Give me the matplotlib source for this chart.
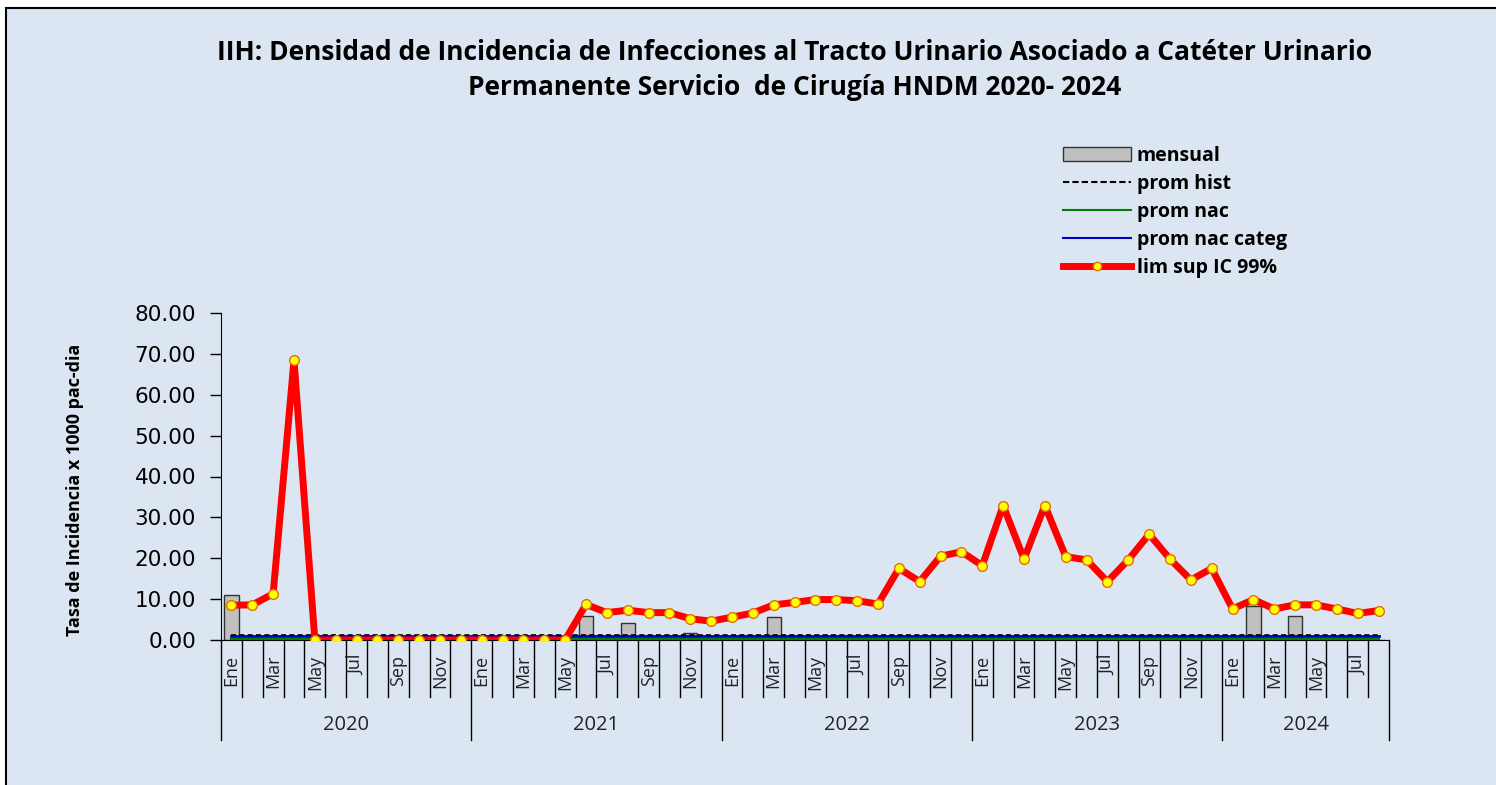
import matplotlib
matplotlib.use('Agg')
import matplotlib.pyplot as plt
from matplotlib.patches import Rectangle
from matplotlib.ticker import FormatStrFormatter

plt.rcParams['font.family'] = ['Open Sans', 'DejaVu Sans']

# data (Ene 2020 - Ago 2024)
years = ['2020', '2021', '2022', '2023', '2024']
months_per_year = [12, 12, 12, 12, 8]
month_names = ['Ene', 'Feb', 'Mar', 'Abr', 'May', 'Jun', 'Jul', 'Ago', 'Sep', 'Oct', 'Nov', 'Dic']

mensual = [11.0, 0, 0, 0, 0, 0, 0, 0, 0, 0, 0, 0,
           0, 0, 0, 0, 0, 5.9, 0, 4.1, 0, 0, 1.8, 0,
           0, 0, 5.7, 0, 0, 0, 0, 0, 0, 0, 0, 0,
           0, 0, 0, 0, 0, 0, 0, 0, 0, 0, 0, 0,
           0, 8.2, 0, 5.9, 0, 0, 0, 0]
lim_sup = [8.5, 8.6, 11.3, 68.5, 0, 0, 0, 0, 0, 0, 0, 0,
           0, 0, 0, 0, 0, 8.7, 6.7, 7.3, 6.7, 6.7, 5.2, 4.6,
           5.6, 6.6, 8.6, 9.2, 9.9, 9.9, 9.6, 8.8, 17.5, 14.3, 20.5, 21.6,
           18.2, 32.9, 19.8, 32.9, 20.4, 19.6, 14.3, 19.6, 25.9, 19.8, 14.7, 17.5,
           7.6, 9.9, 7.6, 8.6, 8.6, 7.6, 6.5, 7.2]
prom_hist = 1.2
prom_nac = 0.3
prom_nac_categ = 1.0

n = len(lim_sup)
x = list(range(n))

W, H = 1496, 785
fig = plt.figure(figsize=(W / 100, H / 100), dpi=100, facecolor='white')
# chart area background with black frame (cropped screenshot look)
fig.patches.append(Rectangle((6 / W, -0.02), 1.05, 1 - 8 / H + 0.02, transform=fig.transFigure,
                             facecolor='#DCE6F2', edgecolor='black', lw=1.5, zorder=-10))

ax = fig.add_axes([221 / W, 1 - 640 / H, (1389 - 221) / W, (640 - 313) / H])
ax.set_facecolor('none')

ax.bar(x, mensual, width=0.68, color='#C0C0C0', edgecolor='#333333', lw=1, zorder=2)
ax.plot([0, n - 1], [prom_nac, prom_nac], color='#008000', lw=1.5, zorder=3)
ax.plot([0, n - 1], [prom_nac_categ, prom_nac_categ], color='#0000C0', lw=2, zorder=3)
ax.plot([0, n - 1], [prom_hist, prom_hist], color='black', lw=1.2, ls=(0, (3, 2)), zorder=3)
ax.plot(x, lim_sup, color='#FF0000', lw=5, marker='o', ms=7, mfc='#FFFF00', mec='#E46C0A',
        mew=1, zorder=4)

ax.set_xlim(-0.5, n - 0.5)
ax.set_ylim(0, 80)
ax.set_yticks(range(0, 81, 10))
ax.yaxis.set_major_formatter(FormatStrFormatter('%.2f'))
ax.tick_params(axis='y', direction='out', length=8, width=1, pad=10)
for lab in ax.get_yticklabels():
    lab.set_fontfamily('DejaVu Sans')
    lab.set_fontsize(15.5)
ax.set_xticks([])
for s in ['top', 'right']:
    ax.spines[s].set_visible(False)

# multi level category axis drawn by hand
trans = ax.get_xaxis_transform()
month_bottom = (640 - 697) / (640 - 313)
year_bottom = (640 - 740) / (640 - 313)
year_starts = [sum(months_per_year[:k]) for k in range(len(years) + 1)]
for i in range(n + 1):
    low = year_bottom if i in year_starts else month_bottom
    ax.plot([i - 0.5, i - 0.5], [0, low], color='black', lw=1, transform=trans, clip_on=False)
for i in range(n):
    if i % 2 == 0:
        ax.text(i, -0.045, month_names[i % 12], rotation=90, ha='center', va='top',
                fontsize=13, color='#222222', transform=trans)
for k in range(len(years)):
    mid = (year_starts[k] + year_starts[k + 1]) / 2 - 0.5
    ax.text(mid, (640 - 725) / (640 - 313), years[k], ha='center', va='center', fontsize=14.5,
            color='#222222', transform=trans)

fig.text(75 / W, 1 - 490 / H, 'Tasa de Incidencia x 1000 pac-dia', rotation=90, ha='center',
         va='center', fontsize=13, fontweight='bold')

fig.text(795 / W, 1 - 70 / H,
         'IIH: Densidad de Incidencia de Infecciones al Tracto Urinario Asociado a Catéter Urinario\n'
         'Permanente Servicio  de Cirugía HNDM 2020- 2024',
         ha='center', va='center', fontsize=19, fontweight='bold', linespacing=1.35)

handles = [Rectangle((0, 0), 1, 1, facecolor='#C0C0C0', edgecolor='#333333', lw=1),
           plt.Line2D([], [], color='black', lw=1.5, ls=(0, (3, 1.5))),
           plt.Line2D([], [], color='#008000', lw=1.5),
           plt.Line2D([], [], color='#0000C0', lw=1.5),
           plt.Line2D([], [], color='#FF0000', lw=5, marker='o', ms=6, mfc='#FFFF00', mec='#E46C0A')]
labels = ['mensual', 'prom hist', 'prom nac', 'prom nac categ', 'lim sup IC 99%']
fig.legend(handles, labels, loc='upper left', bbox_to_anchor=(1053 / W, 1 - 136 / H), frameon=False,
           prop={'size': 14, 'weight': 'bold'}, handlelength=3.5, handleheight=0.8, handletextpad=0.3,
           labelspacing=0.42, borderpad=0)

fig.savefig('out.png', dpi=100, facecolor='white')
